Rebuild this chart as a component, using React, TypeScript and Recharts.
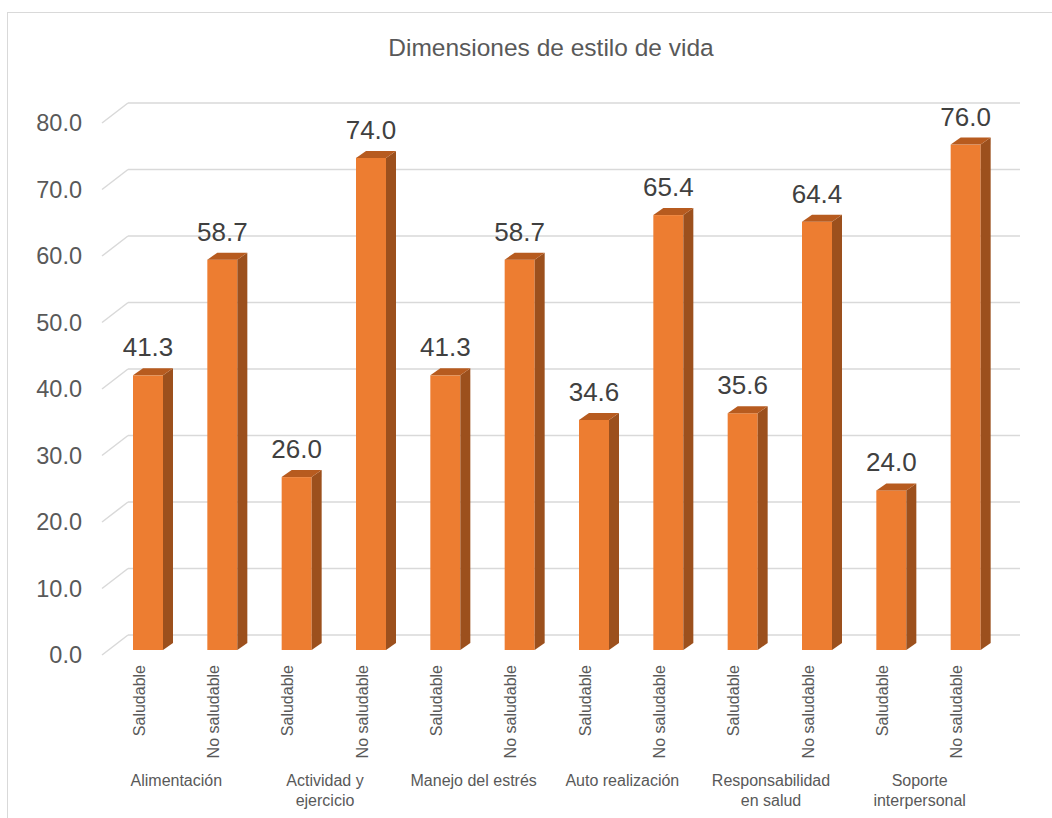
import React from "react";
import { BarChart, Bar, XAxis, YAxis, CartesianGrid, LabelList } from "recharts";

const GROUPS = [
  ["Alimentación"],
  ["Actividad y", "ejercicio"],
  ["Manejo del estrés"],
  ["Auto realización"],
  ["Responsabilidad", "en salud"],
  ["Soporte", "interpersonal"],
];
const LEVELS = ["Saludable", "No saludable"];
const SALUDABLE = [41.3, 26.0, 41.3, 34.6, 35.6, 24.0];
const NO_SALUDABLE = [58.7, 74.0, 58.7, 65.4, 64.4, 76.0];
const Y_TICKS = [0, 10, 20, 30, 40, 50, 60, 70, 80];

const W = 1052;
const H = 818;
const M = { top: 123, right: 58, bottom: 0, left: 0 };
const Y_W = 102;
const X_H = 163;

// fake 3d: back wall offset and bar depth
const WALL_DX = 26;
const WALL_DY = -20;
const BAR_DX = 9;
const BAR_DY = -5;
const DEPTH_X = 10;
const DEPTH_Y = -7;

const FONT = "'Liberation Sans', Arial, sans-serif";
const FRONT = "#ED7D31";
const SIDE = "#9C501D";
const TOP = "#B75B1F";
const GRID = "#D9D9D9";

const data = GROUPS.flatMap((g, i) => [
  { key: `${i}-s`, level: LEVELS[0], group: g, value: SALUDABLE[i] },
  { key: `${i}-n`, level: LEVELS[1], group: g, value: NO_SALUDABLE[i] },
]);

const BAND = (W - M.left - M.right - Y_W) / data.length;

function Bar3D(props: any) {
  const { x, y, width, height } = props;
  const bx = x + BAR_DX;
  const by = y + BAR_DY;
  const r = bx + width;
  const b = by + height;
  return (
    <g>
      <rect x={bx} y={by} width={width} height={height} fill={FRONT} />
      <polygon
        points={`${r},${by} ${r + DEPTH_X},${by + DEPTH_Y} ${r + DEPTH_X},${b + DEPTH_Y} ${r},${b}`}
        fill={SIDE}
      />
      <polygon
        points={`${bx},${by} ${bx + DEPTH_X},${by + DEPTH_Y} ${r + DEPTH_X},${by + DEPTH_Y} ${r},${by}`}
        fill={TOP}
      />
    </g>
  );
}

function ValueLabel(props: any) {
  const { x, y, width, value } = props;
  return (
    <text
      x={x + width / 2 + BAR_DX}
      y={y + BAR_DY + DEPTH_Y - 12}
      textAnchor="middle"
      fontSize={26}
      fill="#404040"
      fontFamily={FONT}
    >
      {Number(value).toFixed(1)}
    </text>
  );
}

function GridLine(props: any) {
  const { x1, x2, y1 } = props;
  return (
    <g key={props.key}>
      <line x1={x1} y1={y1} x2={x1 + WALL_DX} y2={y1 + WALL_DY} stroke={GRID} strokeWidth={1.5} />
      <line x1={x1 + WALL_DX} y1={y1 + WALL_DY} x2={x2 + WALL_DX} y2={y1 + WALL_DY} stroke={GRID} strokeWidth={1.5} />
    </g>
  );
}

function CatTick(props: any) {
  const { x, y, payload, index } = props;
  const row = data[index] ?? data.find((d) => d.key === payload.value);
  const showGroup = index % 2 === 0;
  return (
    <g>
      <text
        transform={`translate(${x},${y + 2}) rotate(-90)`}
        textAnchor="end"
        dy="0.35em"
        fontSize={16}
        fill="#595959"
        fontFamily={FONT}
      >
        {row?.level}
      </text>
      {showGroup &&
        row?.group.map((line: string, i: number) => (
          <text
            key={i}
            x={x + BAND / 2}
            y={y + 123 + i * 20}
            textAnchor="middle"
            fontSize={16}
            fill="#595959"
            fontFamily={FONT}
          >
            {line}
          </text>
        ))}
    </g>
  );
}

export default function App() {
  return (
    <div
      style={{
        position: "fixed",
        left: 0,
        top: 0,
        width: W,
        height: H,
        overflow: "hidden",
        background: "#fff",
        fontFamily: FONT,
      }}
    >
      <div
        style={{
          position: "absolute",
          left: 7,
          top: 12,
          width: 1200,
          height: 1000,
          border: `1.5px solid ${GRID}`,
        }}
      />
      <div
        style={{
          position: "absolute",
          left: 551,
          top: 34,
          transform: "translateX(-50%)",
          fontSize: 24.5,
          color: "#595959",
          whiteSpace: "nowrap",
          lineHeight: "28px",
        }}
      >
        Dimensiones de estilo de vida
      </div>
      <div style={{ position: "absolute", left: 0, top: 0 }}>
        <BarChart width={W} height={H} data={data} margin={M} barSize={30}>
          <CartesianGrid vertical={false} horizontal={GridLine} />
          <XAxis
            dataKey="key"
            height={X_H}
            axisLine={false}
            tickLine={false}
            interval={0}
            tick={CatTick}
          />
          <YAxis
            width={Y_W}
            domain={[0, 80]}
            ticks={Y_TICKS}
            axisLine={false}
            tickLine={false}
            tickMargin={14}
            tickFormatter={(v: number) => v.toFixed(1)}
            tick={{ fontSize: 23.5, fill: "#595959", fontFamily: FONT }}
          />
          <Bar dataKey="value" shape={Bar3D} isAnimationActive={false}>
            <LabelList dataKey="value" content={ValueLabel} />
          </Bar>
        </BarChart>
      </div>
    </div>
  );
}
